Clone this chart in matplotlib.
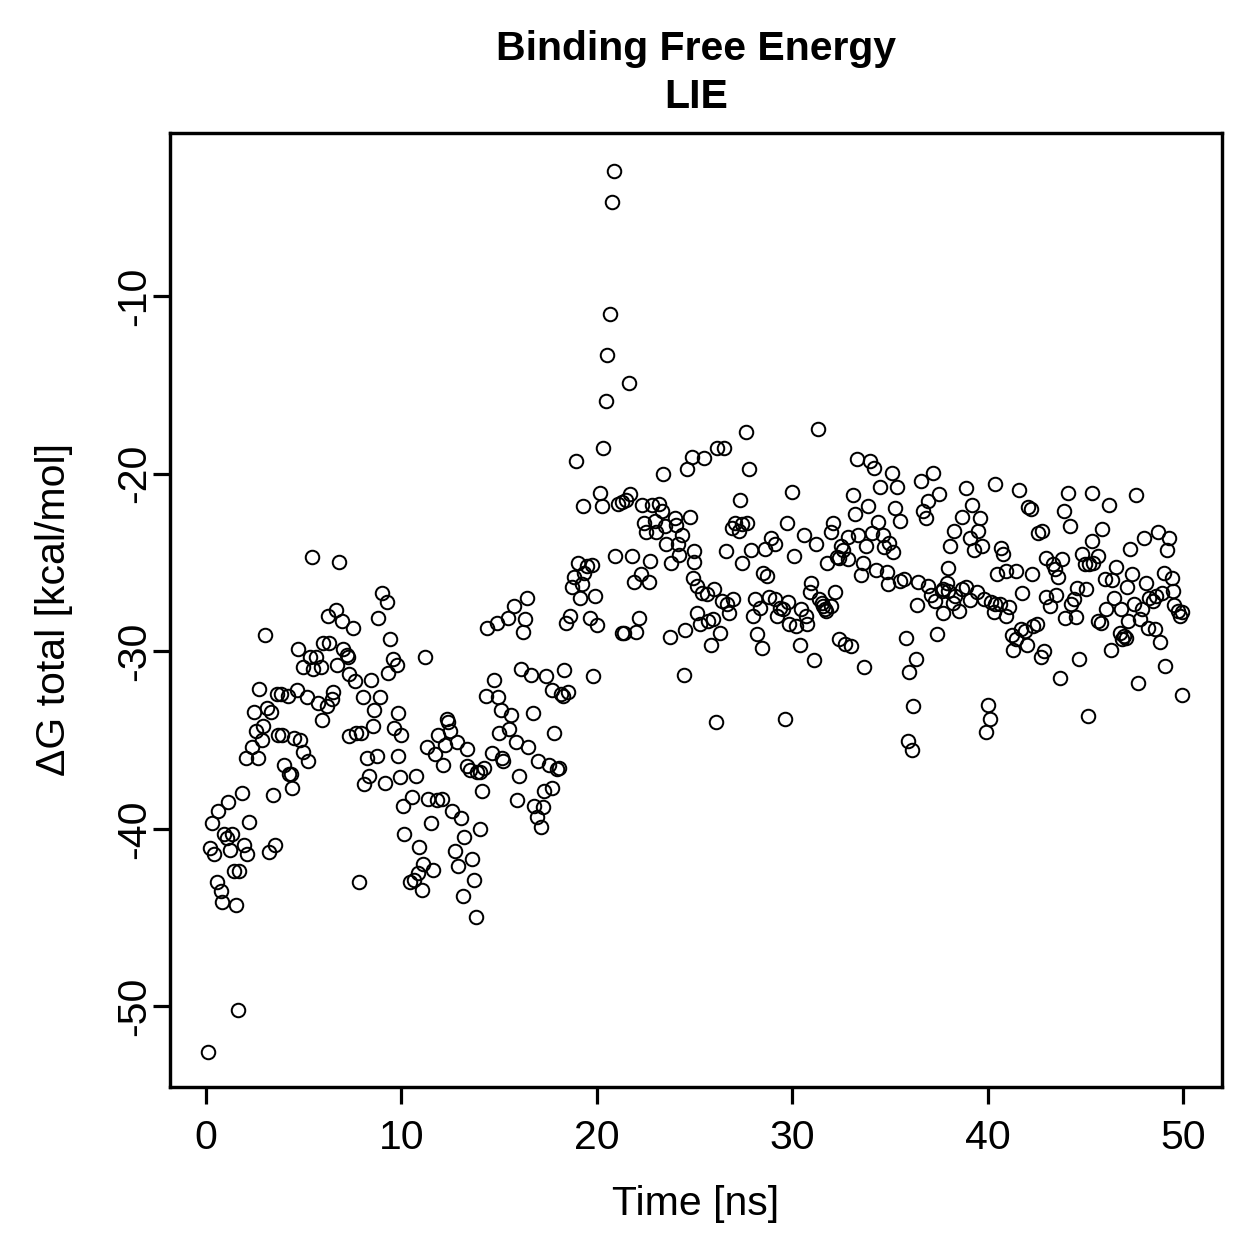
import matplotlib
matplotlib.use("Agg")
import matplotlib.pyplot as plt

# ---- data (time in ns, dG total in kcal/mol) ----
time_ns = [
    # 0-5 ns
    3.02, 4.72, 4.98, 2.73, 3.62, 3.84, 4.18, 4.64, 5.15, 3.10, 3.33, 2.46, 2.93, 2.54,
    2.85, 2.37, 2.03, 2.65, 3.70, 3.90, 4.52, 4.00, 4.26, 4.35, 4.42, 1.83, 3.41, 1.14,
    0.63, 0.32, 2.22, 0.94, 1.06, 1.35, 0.20, 0.43, 1.23, 1.94, 2.11, 3.22, 3.53, 1.45,
    1.70, 0.55, 0.75, 0.83, 1.54, 1.62, 0.12,
    # 5-10 ns
    5.44, 6.82, 9.02, 9.25, 6.64, 6.23, 6.98, 7.54, 8.82, 9.42, 6.00, 6.31, 7.03, 7.20,
    7.28, 5.32, 5.63, 5.49, 5.87, 6.72, 7.32, 7.62, 8.43, 9.55, 9.76, 9.33, 5.75, 6.52,
    6.46, 6.18, 5.92, 8.02, 8.90, 8.60, 9.81, 9.62, 10.00, 8.53, 7.33, 7.68, 7.93, 4.81,
    4.98, 5.23, 8.22, 8.74, 9.84, 8.34, 8.10, 9.16, 9.93, 10.10, 10.13, 7.83,
    # 10-15 ns
    11.20, 14.74, 14.31, 14.96, 15.10, 12.32, 12.40, 11.89, 12.49, 14.99, 11.33, 11.72,
    12.23, 12.83, 13.34, 14.62, 15.13, 15.22, 12.15, 13.38, 13.50, 13.85, 14.02, 14.24,
    10.73, 14.11, 10.52, 11.38, 11.81, 12.06, 12.60, 13.05, 11.51, 14.02, 13.22, 10.92,
    12.74, 12.91, 13.63, 11.12, 11.63, 10.83, 10.44, 10.66, 11.04, 13.72, 13.13, 13.82,
    # 15-20 ns
    18.92, 19.31, 19.02, 19.48, 19.74, 19.36, 18.83, 18.71, 19.23, 19.14, 19.91, 16.44,
    15.76, 15.44, 14.88, 16.33, 16.24, 18.63, 18.41, 19.65, 20.03, 16.11, 16.62, 17.40,
    18.32, 19.82, 17.72, 18.17, 18.29, 18.54, 15.61, 16.72, 15.50, 15.85, 16.50, 17.81,
    17.01, 17.55, 17.95, 18.07, 16.02, 17.31, 17.69, 15.93, 16.80, 17.26, 16.92, 17.13,
    14.40,
    # 20-25 ns
    20.86, 20.78, 20.68, 20.55, 21.63, 20.46, 20.33, 24.89, 24.64, 23.39, 20.19, 20.28,
    21.08, 21.27, 21.48, 21.71, 22.31, 22.85, 23.20, 23.33, 22.44, 22.52, 22.97, 23.02,
    23.51, 24.00, 24.05, 24.35, 24.77, 23.57, 24.14, 25.00, 24.98, 24.23, 23.78, 22.74,
    20.94, 21.80, 22.26, 21.89, 22.70, 22.16, 21.27, 21.39, 21.99, 23.75, 24.53, 24.46,
    # 25-30 ns
    27.62, 26.14, 26.53, 25.50, 27.80, 30.00, 27.33, 29.72, 26.90, 27.07, 27.29, 27.42,
    27.70, 26.61, 27.89, 28.61, 28.90, 29.12, 30.11, 27.42, 28.49, 28.72, 24.94, 25.11,
    25.37, 25.62, 26.00, 26.39, 26.68, 26.98, 26.78, 28.10, 28.35, 28.00, 28.83, 29.12,
    29.38, 29.55, 29.80, 29.23, 25.14, 25.28, 25.70, 25.93, 26.30, 25.83, 28.21, 28.44,
    29.84, 30.19, 26.11, 29.63,
    # 30-35 ns
    31.30, 33.30, 33.98, 34.20, 35.09, 34.49, 33.13, 33.90, 35.26, 33.21, 32.10, 31.97,
    30.60, 31.22, 32.87, 33.38, 34.07, 34.41, 34.63, 33.78, 34.71, 34.97, 35.17, 32.48,
    32.58, 32.41, 32.87, 31.80, 32.28, 33.61, 33.50, 34.29, 34.84, 34.89, 30.99, 30.91,
    32.19, 31.39, 31.51, 31.68, 31.97, 31.59, 31.73, 30.45, 30.70, 30.78, 32.41, 32.70,
    33.00, 30.40, 31.12, 33.67,
    # 35-40 ns
    37.22, 36.59, 35.39, 38.89, 40.38, 37.51, 36.93, 35.52, 36.71, 36.83, 39.22, 38.70,
    39.61, 38.30, 39.52, 38.08, 39.10, 39.32, 39.73, 37.99, 35.52, 35.71, 36.46, 36.97,
    37.91, 37.74, 37.99, 38.33, 38.71, 38.88, 39.10, 39.44, 39.83, 40.17, 40.38, 40.34,
    37.10, 37.31, 37.68, 38.24, 38.54, 36.39, 37.73, 35.81, 37.39, 36.32, 35.99, 36.20,
    40.00, 40.12, 39.90, 35.91, 36.12,
    # 40-45 ns
    41.61, 44.10, 45.33, 42.08, 42.22, 43.91, 44.22, 42.60, 42.80, 40.69, 40.80, 45.33,
    43.01, 43.35, 43.82, 43.45, 43.62, 44.81, 44.98, 45.19, 45.41, 40.46, 40.97, 41.48,
    42.30, 41.77, 43.01, 43.52, 43.19, 44.60, 45.04, 44.44, 44.27, 43.96, 44.51, 40.63,
    41.09, 40.93, 41.71, 41.92, 42.51, 42.34, 41.23, 41.45, 41.31, 42.00, 42.89, 42.72,
    44.68, 43.71, 45.15,
    # 45-50 ns
    47.60, 46.21, 45.87, 48.70, 48.02, 49.30, 49.17, 47.27, 45.63, 46.60, 46.00, 46.35,
    47.39, 49.03, 49.42, 48.13, 47.12, 49.50, 48.91, 46.48, 48.27, 48.45, 48.62, 47.51,
    47.92, 46.04, 46.83, 49.55, 49.76, 49.93, 49.85, 45.63, 45.80, 47.18, 47.80, 48.22,
    48.57, 46.77, 46.98, 47.08, 46.86, 48.82, 46.31, 49.08, 47.71, 49.96,
]

dG_total = [
    # 0-5 ns
    -29.1, -29.85, -30.9, -32.1, -32.4, -32.4, -32.5, -32.2, -32.6, -33.2, -33.4, -33.4, -34.2, -34.5,
    -35.0, -35.4, -36.0, -36.0, -34.7, -34.7, -34.9, -36.4, -36.9, -36.9, -37.7, -38.0, -38.1, -38.5,
    -39.0, -39.7, -39.6, -40.3, -40.5, -40.3, -41.1, -41.4, -41.2, -40.9, -41.4, -41.3, -40.9, -42.4,
    -42.4, -43.0, -43.5, -44.1, -44.3, -50.2, -52.6,
    # 5-10 ns
    -24.7, -24.95, -26.7, -27.2, -27.7, -28.0, -28.3, -28.7, -28.1, -29.3, -29.55, -29.55, -29.9, -30.2,
    -30.3, -30.35, -30.3, -31.0, -30.9, -30.8, -31.3, -31.7, -31.6, -30.45, -30.8, -31.2, -32.9, -32.3,
    -32.7, -33.1, -33.9, -32.55, -32.6, -33.3, -33.5, -34.3, -34.7, -34.2, -34.8, -34.6, -34.6, -35.0,
    -35.7, -36.2, -36.0, -35.9, -35.9, -37.0, -37.5, -37.4, -37.1, -38.7, -40.3, -43.0,
    # 10-15 ns
    -30.3, -31.6, -32.5, -32.55, -33.3, -33.8, -34.0, -34.7, -34.5, -34.6, -35.4, -35.8,
    -35.3, -35.1, -35.5, -35.75, -36.0, -36.2, -36.4, -36.45, -36.7, -36.8, -36.8, -36.6,
    -37.0, -37.9, -38.2, -38.3, -38.4, -38.3, -39.0, -39.4, -39.7, -40.0, -40.45, -41.0,
    -41.25, -42.1, -41.7, -42.0, -42.3, -42.5, -43.0, -42.9, -43.45, -42.9, -43.8, -45.0,
    # 15-20 ns
    -19.3, -21.8, -25.0, -25.2, -25.15, -25.6, -25.8, -26.4, -26.2, -27.0, -26.9, -27.0,
    -27.45, -28.1, -28.4, -28.2, -28.9, -28.0, -28.4, -28.1, -28.5, -31.0, -31.35, -31.4,
    -31.05, -31.4, -32.2, -32.4, -32.5, -32.3, -33.6, -33.5, -34.4, -35.1, -35.4, -34.6,
    -36.2, -36.4, -36.65, -36.6, -37.0, -37.9, -37.7, -38.4, -38.7, -38.8, -39.35, -39.9,
    -28.7,
    # 20-25 ns
    -2.96, -4.68, -11.0, -13.3, -14.86, -15.9, -18.55, -19.05, -19.74, -20.0, -21.1, -21.83,
    -21.7, -21.58, -21.48, -21.12, -21.78, -21.78, -21.68, -22.11, -22.76, -23.3, -22.67, -23.26,
    -22.96, -22.5, -22.9, -23.45, -22.46, -23.95, -23.95, -24.34, -24.95, -24.6, -25.04, -24.9,
    -24.64, -24.64, -25.67, -26.12, -26.07, -28.1, -28.95, -28.95, -28.9, -29.2, -28.83, -31.36,
    # 25-30 ns
    -17.64, -18.53, -18.53, -19.1, -19.75, -21.0, -21.47, -22.76, -23.03, -22.75, -23.22, -22.85,
    -22.75, -24.35, -24.29, -24.21, -23.63, -23.97, -24.63, -25.04, -25.6, -25.76, -25.85, -26.3,
    -26.7, -26.8, -26.47, -27.17, -27.35, -27.07, -27.86, -27.07, -27.54, -28.0, -26.97, -27.07,
    -27.54, -27.63, -27.22, -28.04, -27.82, -28.48, -28.29, -28.16, -28.99, -29.66, -29.04, -29.79,
    -28.48, -28.57, -33.98, -33.79,
    # 30-35 ns
    -17.49, -19.18, -19.28, -19.69, -19.93, -20.72, -21.21, -21.81, -21.9, -22.24, -22.75, -23.28,
    -23.45, -23.93, -23.56, -23.46, -23.31, -22.69, -23.45, -24.06, -24.1, -23.88, -24.4, -24.07,
    -24.29, -24.72, -24.78, -25.0, -24.69, -25.04, -25.72, -25.44, -25.51, -26.23, -26.13, -26.66,
    -26.64, -27.03, -27.26, -27.63, -27.45, -27.45, -27.73, -27.6, -28.01, -28.44, -29.32, -29.6,
    -29.7, -29.64, -30.49, -30.88,
    # 35-40 ns
    -19.97, -20.4, -20.74, -20.82, -20.59, -21.15, -21.53, -22.66, -22.1, -22.51, -21.77, -22.43,
    -22.47, -23.22, -23.22, -24.07, -23.6, -24.31, -24.07, -25.3, -26.04, -25.94, -26.07, -26.32,
    -26.13, -26.5, -26.59, -26.88, -26.5, -26.38, -27.1, -26.66, -27.07, -27.22, -27.35, -27.8,
    -26.84, -27.17, -26.6, -27.3, -27.73, -27.41, -27.86, -29.23, -29.0, -30.41, -31.17, -33.08,
    -33.04, -33.83, -34.55, -35.05, -35.56,
    # 40-45 ns
    -20.91, -21.1, -21.1, -21.85, -22.0, -22.1, -22.94, -23.35, -23.22, -24.16, -24.54, -23.78,
    -24.72, -25.1, -24.78, -25.38, -25.79, -24.54, -25.1, -25.06, -25.0, -25.63, -25.48, -25.48,
    -25.66, -26.69, -26.92, -26.85, -27.45, -26.41, -26.51, -27.07, -27.35, -28.1, -28.07, -27.32,
    -27.5, -28.0, -28.73, -28.86, -28.48, -28.58, -29.1, -29.32, -29.93, -29.65, -29.97, -30.35,
    -30.45, -31.48, -33.65,
    # 45-50 ns
    -21.2, -21.76, -23.09, -23.28, -23.63, -23.6, -24.29, -24.25, -24.66, -25.23, -25.94, -25.98,
    -25.66, -25.6, -25.9, -26.18, -26.36, -26.6, -26.73, -26.98, -26.98, -27.17, -26.88, -27.35,
    -27.63, -27.63, -27.63, -27.41, -27.73, -27.79, -28.0, -28.29, -28.42, -28.29, -28.16, -28.67,
    -28.76, -28.95, -29.14, -29.23, -29.32, -29.46, -29.94, -30.83, -31.76, -32.48,
]

x_ticks = [0, 10, 20, 30, 40, 50]
y_ticks = [-10, -20, -30, -40, -50]
title_lines = ["Binding Free Energy", "LIE"]
x_label = "Time [ns]"
y_label = "\u0394G total [kcal/mol]"

# ---- figure ----
W = H = 1259
DPI = 72
plt.rcParams["font.family"] = ["Liberation Sans", "DejaVu Sans"]
plt.rcParams["axes.unicode_minus"] = False

fig = plt.figure(figsize=(W / DPI, H / DPI), dpi=DPI)
L, R, T, B = 170, 1222, 133, 1087
ax = fig.add_axes([L / W, 1 - B / H, (R - L) / W, (B - T) / H])

ax.plot(time_ns, dG_total, linestyle="none", marker="o", markersize=13.5,
        markerfacecolor="none", markeredgecolor="black", markeredgewidth=2.0)

ax.set_xlim(-1.84, 52.0)
ax.set_ylim(-54.55, -0.8)

ax.set_xticks(x_ticks)
ax.set_xticklabels([str(v) for v in x_ticks])
ax.set_yticks(y_ticks)
ax.set_yticklabels([str(v) for v in y_ticks], rotation=90, va="center")

for s in ax.spines.values():
    s.set_linewidth(3.4)
ax.tick_params(axis="both", direction="out", length=17, width=3.2,
               labelsize=41, colors="black")
ax.tick_params(axis="x", pad=15)
ax.tick_params(axis="y", pad=0)

# titles and axis labels placed like the R output
fig.text(0.5 * (L + R) / W, 1 - 60 / H, title_lines[0], ha="center", va="baseline",
         fontsize=41, fontweight="bold")
fig.text(0.5 * (L + R) / W, 1 - 108 / H, title_lines[1], ha="center", va="baseline",
         fontsize=41, fontweight="bold")
fig.text(0.5 * (L + R) / W, 1 - 1215 / H, x_label, ha="center", va="baseline", fontsize=41)
fig.text(65 / W, 1 - 0.5 * (T + B) / H, y_label, ha="center", va="baseline",
         rotation=90, rotation_mode="anchor", fontsize=41)

fig.savefig("out.png", dpi=DPI, facecolor="white")
